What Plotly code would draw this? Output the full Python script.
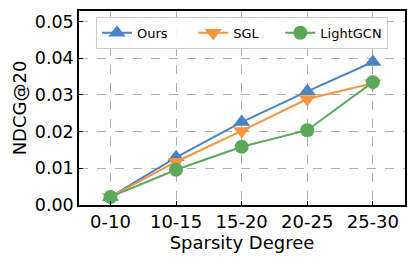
import plotly.graph_objects as go

categories = ["0-10", "10-15", "15-20", "20-25", "25-30"]
ours = [0.0022, 0.0130, 0.0226, 0.0310, 0.0390]
sgl = [0.0022, 0.0118, 0.0202, 0.0289, 0.0332]
lightgcn = [0.0022, 0.0096, 0.0159, 0.0204, 0.0335]
y_ticks = [0.0, 0.01, 0.02, 0.03, 0.04, 0.05]

NB = "\u00a0"

fig = go.Figure()
fig.add_trace(go.Scatter(x=categories, y=ours, name="Ours" + NB * 5, mode="lines+markers",
                         line=dict(color="#4a84c1", width=2),
                         marker=dict(symbol="triangle-up", size=15, color="#4a84c1")))
fig.add_trace(go.Scatter(x=categories, y=sgl, name="SGL" + NB * 4, mode="lines+markers",
                         line=dict(color="#f7943f", width=2),
                         marker=dict(symbol="triangle-down", size=15, color="#f7943f")))
fig.add_trace(go.Scatter(x=categories, y=lightgcn, name="LightGCN", mode="lines+markers",
                         line=dict(color="#5aa95b", width=2),
                         marker=dict(symbol="circle", size=14, color="#5aa95b")))

fig.update_layout(
    width=416, height=262,
    margin=dict(l=79, r=11, t=11, b=57, autoexpand=False),
    plot_bgcolor="white", paper_bgcolor="white",
    font=dict(family="DejaVu Sans", color="black"),
    legend=dict(orientation="h", x=0.052, y=0.97, xanchor="left", yanchor="top",
                bgcolor="rgba(255,255,255,0.85)", bordercolor="#cccccc", borderwidth=1,
                font=dict(size=13), tracegroupgap=0),
)
fig.update_xaxes(
    range=[-0.48, 4.49], showline=True, linecolor="black", linewidth=1.5, mirror=True,
    ticks="inside", ticklen=4, tickcolor="black", tickfont=dict(size=18),
    showgrid=True, gridcolor="#b0b0b0", griddash="dash", gridwidth=1, automargin=False,
    title=dict(text="Sparsity Degree", font=dict(size=18), standoff=4),
)
fig.update_yaxes(
    range=[0, 0.0529], tickvals=y_ticks, tickformat=".2f",
    showline=True, linecolor="black", linewidth=1.5, mirror=True,
    ticks="inside", ticklen=4, tickcolor="black", tickfont=dict(size=17.5),
    showgrid=True, gridcolor="#b0b0b0", griddash="dash", gridwidth=1, zeroline=False,
    automargin=False,
    title=dict(text="NDCG@20", font=dict(size=18), standoff=3),
)

fig.write_html("out.html", config={"displayModeBar": False},
               post_script="document.body.style.margin='0';")
